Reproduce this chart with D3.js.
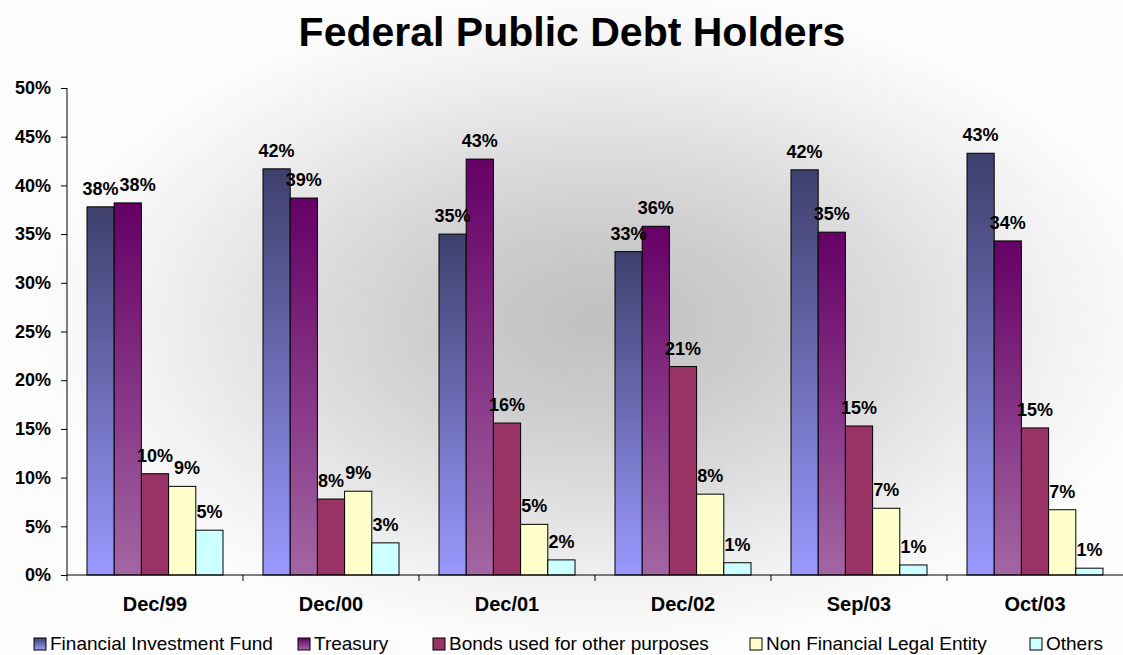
<!DOCTYPE html>
<html>
<head>
<meta charset="utf-8">
<script src="https://cdn.jsdelivr.net/npm/d3@7"></script>
<style>
  body { margin: 0; background: #fff; }
  svg { display: block; font-family: "Liberation Sans", Arial, sans-serif; }
</style>
</head>
<body>
<svg width="1123" height="655"></svg>
<script>
// data (percent)
var categories = ['Dec/99', 'Dec/00', 'Dec/01', 'Dec/02', 'Sep/03', 'Oct/03'];
var seriesNames = ['Financial Investment Fund', 'Treasury', 'Bonds used for other purposes', 'Non Financial Legal Entity', 'Others'];
var fif      = [37.8, 41.7, 35.0, 33.2, 41.6, 43.3];
var treasury = [38.2, 38.7, 42.7, 35.8, 35.2, 34.3];
var bonds    = [10.4, 7.8, 15.6, 21.4, 15.3, 15.1];
var nfle     = [9.1, 8.6, 5.2, 8.3, 6.85, 6.7];
var others   = [4.6, 3.3, 1.55, 1.26, 1.03, 0.7];
var yTicks = [0, 5, 10, 15, 20, 25, 30, 35, 40, 45, 50];

var seriesValues = [fif, treasury, bonds, nfle, others];
var fills = ['url(#gFif)', 'url(#gTre)', '#993366', '#FFFFCC', '#CCFFFF'];
var legendX = [34, 298, 433, 750, 1030];

var svg = d3.select('svg');
var W = 1123, H = 655;
var plotLeft = 67, plotRight = 1123, plotTop = 88, plotBottom = 575;

var defs = svg.append('defs');

// background: grey centre fading to white
var bg = defs.append('radialGradient').attr('id', 'bgGrad')
  .attr('cx', '0.534').attr('cy', '0.49').attr('r', '0.5');
[['0', '#c0c0c0'], ['0.27', '#cccccc'], ['0.53', '#dddddd'], ['0.8', '#f1f1f1'], ['1', '#fcfcfc']]
  .forEach(s => bg.append('stop').attr('offset', s[0]).attr('stop-color', s[1]));

function vGrad(id, c1, c2) {
  var lg = defs.append('linearGradient').attr('id', id)
    .attr('x1', 0).attr('y1', 0).attr('x2', 0).attr('y2', 1);
  lg.append('stop').attr('offset', '0').attr('stop-color', c1);
  lg.append('stop').attr('offset', '1').attr('stop-color', c2);
}
vGrad('gFif', '#3f3f6c', '#9999ff');
vGrad('gTre', '#660066', '#a366a3');

svg.append('rect').attr('width', W).attr('height', H).attr('fill', '#fff');
svg.append('rect').attr('width', W).attr('height', H).attr('fill', 'url(#bgGrad)');

// title
svg.append('text')
  .attr('x', 572).attr('y', 46)
  .attr('text-anchor', 'middle')
  .attr('font-size', 41).attr('font-weight', 'bold')
  .text('Federal Public Debt Holders');

var x0 = d3.scaleBand().domain(categories).range([plotLeft, plotRight]);
var x1 = d3.scaleBand().domain(d3.range(seriesNames.length)).range([20, x0.bandwidth() - 20]);
var y = d3.scaleLinear().domain([0, 50]).range([plotBottom, plotTop]);

function rowOf(ci) {
  return seriesValues.map((vals, si) => ({ s: si, v: vals[ci] }));
}

// bars
var groups = svg.append('g').selectAll('g')
  .data(categories)
  .join('g')
  .attr('transform', d => 'translate(' + x0(d) + ',0)');

groups.selectAll('rect')
  .data((c, ci) => rowOf(ci))
  .join('rect')
  .attr('x', d => x1(d.s))
  .attr('y', d => y(d.v))
  .attr('width', x1.bandwidth())
  .attr('height', d => y(0) - y(d.v))
  .attr('fill', d => fills[d.s])
  .attr('stroke', '#000')
  .attr('stroke-width', 1);

var fmt = d3.format('.0f');
groups.each(function (c, ci) {
  var labels = d3.select(this).selectAll('text')
    .data(rowOf(ci))
    .join('text')
    .attr('x', d => x1(d.s) + x1.bandwidth() / 2)
    .attr('y', d => y(d.v) - 12)
    .attr('text-anchor', 'middle')
    .attr('font-size', 18).attr('font-weight', 'bold')
    .text(d => fmt(d.v) + '%');

  // nudge a label right when it runs into the one before it
  var nodes = labels.nodes();
  for (var i = 1; i < nodes.length; i++) {
    var a = nodes[i - 1].getBBox(), b = nodes[i].getBBox();
    var vOverlap = b.y < a.y + a.height - 4 && a.y < b.y + b.height - 4;
    var push = a.x + a.width + 1 - b.x;
    if (vOverlap && push > 0) {
      d3.select(nodes[i]).attr('x', +nodes[i].getAttribute('x') + push);
    }
  }
});

// y axis
var yAxis = d3.axisLeft(y).tickValues(yTicks).tickSize(6).tickPadding(10)
  .tickFormat(d => d + '%');
var gy = svg.append('g').attr('transform', 'translate(' + plotLeft + ',0)').call(yAxis);
gy.select('.domain').attr('stroke', '#000').attr('d', 'M0,' + plotTop + 'V' + plotBottom);
gy.selectAll('.tick line').attr('stroke', '#000');
gy.selectAll('.tick text')
  .attr('font-size', 18).attr('font-weight', 'bold')
  .attr('font-family', '"Liberation Sans", Arial, sans-serif')
  .attr('fill', '#000');

// x axis: ticks at category boundaries
var gx = svg.append('g').attr('transform', 'translate(0,' + plotBottom + ')');
gx.append('line').attr('x1', plotLeft).attr('x2', plotRight).attr('stroke', '#000');
gx.selectAll('.bt')
  .data(categories)
  .join('line')
  .attr('class', 'bt')
  .attr('x1', d => x0(d)).attr('x2', d => x0(d))
  .attr('y1', 0).attr('y2', 6)
  .attr('stroke', '#000');
gx.selectAll('.cl')
  .data(categories)
  .join('text')
  .attr('class', 'cl')
  .attr('x', d => x0(d) + x0.bandwidth() / 2)
  .attr('y', 36)
  .attr('text-anchor', 'middle')
  .attr('font-size', 20).attr('font-weight', 'bold')
  .text(d => d);

// legend
var legend = svg.append('g');
seriesNames.forEach(function (name, i) {
  var it = legend.append('g').attr('transform', 'translate(' + legendX[i] + ',0)');
  it.append('rect').attr('x', 0).attr('y', 638).attr('width', 12).attr('height', 12)
    .attr('fill', fills[i]).attr('stroke', '#000').attr('stroke-width', 1);
  it.append('text').attr('x', 16).attr('y', 650)
    .attr('font-size', 19).text(name);
});
</script>
</body>
</html>
